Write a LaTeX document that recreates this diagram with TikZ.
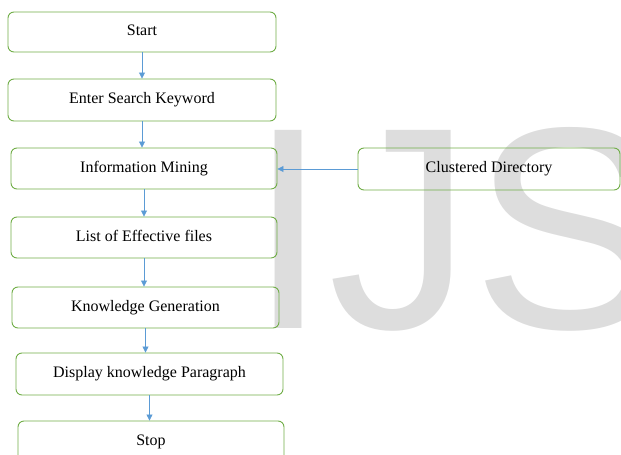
\documentclass[tikz,border=0pt]{standalone}
\usepackage{fontspec}
\setmainfont{Liberation Serif}
\newfontfamily\wmfont{Liberation Sans}
\usetikzlibrary{arrows.meta}
\definecolor{boxgreen}{RGB}{112,173,71}
\definecolor{arrowblue}{RGB}{91,155,213}
\definecolor{wmgray}{RGB}{221,221,221}
\begin{document}
\begin{tikzpicture}[x=1pt,y=-1pt,
  stepbox/.style={draw=boxgreen, line width=0.9pt, rounded corners=6pt,
    inner sep=0pt, font=\fontsize{16}{19}\selectfont,
    text height=10.5pt, text depth=3pt},
  flow/.style={draw=arrowblue, line width=0.8pt,
    -{Triangle[length=6pt,width=6pt]}}]
\useasboundingbox (0,0) rectangle (621,455);
\clip (0,0) rectangle (621,455);

% watermark letters behind the chart
\node[anchor=base west, inner sep=0pt, text=wmgray,
  font=\wmfont\fontsize{288}{288}\selectfont] (wm) at (248,328) {IJS};

% process steps
\node[stepbox, minimum width=268pt, minimum height=40pt] (b1) at (142,32)    {Start};
\node[stepbox, minimum width=268pt, minimum height=42pt] (b2) at (142,100)   {Enter Search Keyword};
\node[stepbox, minimum width=266pt, minimum height=41pt] (b3) at (144,168.5) {Information Mining};
\node[stepbox, minimum width=266pt, minimum height=41pt] (b4) at (144,237.5) {List of Effective files};
\node[stepbox, minimum width=267pt, minimum height=41pt] (b5) at (145.5,307.5) {Knowledge Generation};
\node[stepbox, minimum width=267pt, minimum height=42pt] (b6) at (149.5,374) {Display knowledge Paragraph};
\node[stepbox, minimum width=266pt, minimum height=41pt] (b7) at (151,441.5) {Stop};
\node[stepbox, minimum width=262pt, minimum height=42pt] (cd) at (489,169)   {Clustered Directory};

% connectors
\draw[flow] (b1.south) -- (b1.south |- b2.north);
\draw[flow] (b2.south) -- (b2.south |- b3.north);
\draw[flow] (b3.south) -- (b3.south |- b4.north);
\draw[flow] (b4.south) -- (b4.south |- b5.north);
\draw[flow] (b5.south) -- (b5.south |- b6.north);
\draw[flow] (b6.south) -- (b6.south |- b7.north);
\draw[flow] (cd.west) -- (b3.east |- cd.west);
\end{tikzpicture}
\end{document}
